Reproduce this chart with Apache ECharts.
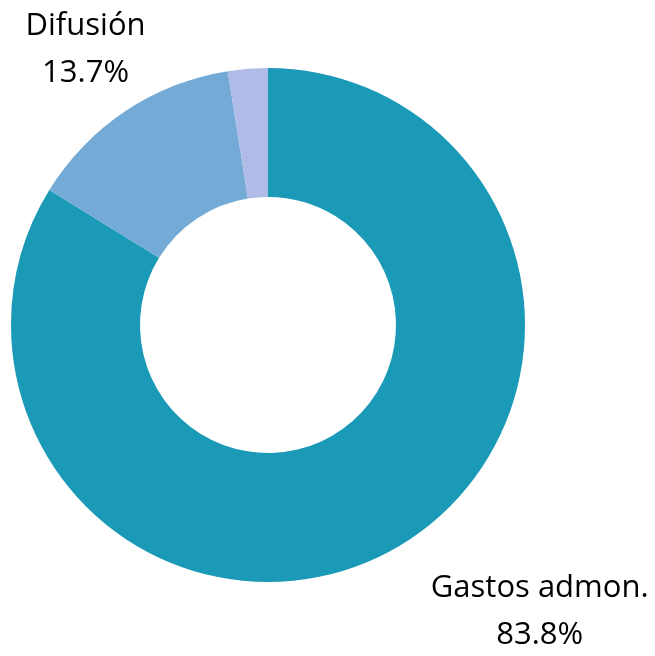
<!DOCTYPE html>
<html>
<head>
<meta charset="utf-8">
<script src="https://cdn.jsdelivr.net/npm/echarts@6/dist/echarts.min.js"></script>
<style>
html,body{margin:0;padding:0;background:#fff;}
#chart{width:655px;height:656px;}
</style>
</head>
<body>
<div id="chart"></div>
<script>
const categories = ['Gastos admon.', 'Difusión', 'Otros'];
const values = [83.8, 13.7, 2.5];
const colors = ['#1b9ab8', '#74abd6', '#b1bbe8'];
const showLabel = [true, true, false];

const labelTweaks = [
  { length: 71, length2: 0, distance: 3 },
  { length: 74, length2: 0, distance: -61 },
  { length: 10, length2: 0, distance: 5 }
];

const data = categories.map((name, i) => ({
  name: name,
  value: values[i],
  itemStyle: { color: colors[i] },
  label: { show: showLabel[i], distanceToLabelLine: labelTweaks[i].distance },
  labelLine: { show: false, length: labelTweaks[i].length, length2: labelTweaks[i].length2 }
}));

const chart = echarts.init(document.getElementById('chart'));
chart.setOption({
  animation: false,
  series: [{
    type: 'pie',
    center: [268, 325],
    radius: [128, 257],
    startAngle: 90,
    clockwise: true,
    avoidLabelOverlap: false,
    percentPrecision: 1,
    itemStyle: { borderWidth: 0 },
    emphasis: { disabled: true },
    label: {
      position: 'outside',
      formatter: '{n|{b}}\n{n|{d}%}',
      rich: {
        n: { align: 'center', fontFamily: 'Open Sans', fontSize: 31, lineHeight: 47, color: '#000' }
      }
    },
    data: data
  }]
});
</script>
</body>
</html>
